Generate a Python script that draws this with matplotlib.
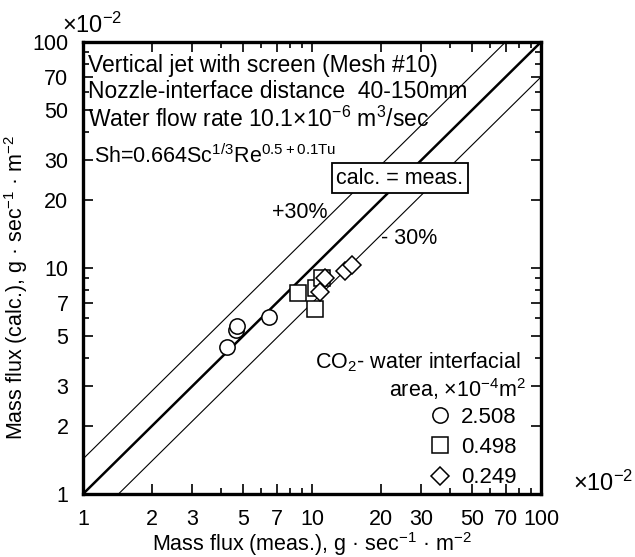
import numpy as np
import matplotlib
matplotlib.use('Agg')
import matplotlib.pyplot as plt
from matplotlib.ticker import FixedLocator, NullFormatter, FixedFormatter

plt.rcParams['font.family'] = ['Liberation Sans', 'DejaVu Sans']
plt.rcParams['mathtext.default'] = 'regular'

# mass flux, x10^-2 g/(s m2): measured vs calculated, grouped by interfacial area
area_labels = ['2.508', '0.498', '0.249']
circle_meas = [4.24, 4.66, 4.72, 6.51]
circle_calc = [4.46, 5.32, 5.54, 6.09]
square_meas = [8.71, 10.4, 11.1, 10.3]
square_calc = [7.73, 8.13, 9.0, 6.57]
diamond_meas = [10.8, 11.4, 13.9, 15.0]
diamond_calc = [7.85, 9.0, 9.70, 10.3]

tick_vals = [1, 2, 3, 5, 7, 10, 20, 30, 50, 70, 100]
minor_vals = [4, 6, 8, 9, 40, 60, 80, 90]

fig = plt.figure(figsize=(6.35, 5.57), dpi=100)
ax = fig.add_axes([0.1307, 0.1131, 0.7213, 0.8115])

# parity line and the +/-30 % band
xl = np.array([1.0, 100.0])
ax.plot(xl, xl, color='black', lw=1.8, zorder=2)
ax.plot(xl, xl / 0.7, color='black', lw=0.8, zorder=2)
ax.plot(xl, xl * 0.7, color='black', lw=0.8, zorder=2)

mk = dict(linestyle='none', mfc='white', mec='black', mew=1.1, zorder=3)
ax.plot(circle_meas, circle_calc, marker='o', ms=11, label=area_labels[0], **mk)
ax.plot(square_meas, square_calc, marker='s', ms=11, label=area_labels[1], **mk)
ax.plot(diamond_meas, diamond_calc, marker='D', ms=9, label=area_labels[2], **mk)

ax.set_xscale('log')
ax.set_yscale('log')
ax.set_xlim(1, 100)
ax.set_ylim(1, 100)

for axis in (ax.xaxis, ax.yaxis):
    axis.set_major_locator(FixedLocator(tick_vals))
    axis.set_major_formatter(FixedFormatter([str(v) for v in tick_vals]))
    axis.set_minor_locator(FixedLocator(minor_vals))
    axis.set_minor_formatter(NullFormatter())

ax.tick_params(which='both', direction='in', top=True, right=True, width=1.2,
               labelsize=15.5, pad=10.5)
ax.tick_params(which='major', length=7)
ax.tick_params(which='minor', length=4)
for s in ax.spines.values():
    s.set_linewidth(2.4)

ax.set_xlabel('Mass flux (meas.), g · sec$^{-1}$ · m$^{-2}$', fontsize=15.5)
ax.xaxis.set_label_coords(0.5, -0.08)
fig.text(0.004, 0.485, 'Mass flux (calc.), g · sec$^{-1}$ · m$^{-2}$', fontsize=15.5,
         rotation=90, ha='left', va='center')

fig.text(0.0976, 0.955, '×10$^{-2}$', fontsize=17, ha='left', va='center')
fig.text(0.902, 0.133, '×10$^{-2}$', fontsize=17, ha='left', va='center')

# conditions block
info = ['Vertical jet with screen (Mesh #10)',
        'Nozzle-interface distance  40-150mm',
        'Water flow rate 10.1×10$^{-6}$ m$^3$/sec']
info_y = [0.934, 0.876, 0.812]
for line, yy in zip(info, info_y):
    ax.text(0.011, yy, line, transform=ax.transAxes,
            fontsize=16.5, ha='left', va='baseline')
ax.text(0.025, 0.732, 'Sh=0.664Sc$^{1/3}$Re$^{0.5+0.1Tu}$', transform=ax.transAxes,
        fontsize=15.5, ha='left', va='baseline')

ax.text(0.692, 0.699, 'calc. = meas.', transform=ax.transAxes, fontsize=15.5,
        ha='center', va='center', zorder=5,
        bbox=dict(boxstyle='square,pad=0.22', fc='white', ec='black', lw=1.3))
ax.text(0.474, 0.622, '+30%', transform=ax.transAxes, fontsize=15.5,
        ha='center', va='center')
ax.text(0.713, 0.566, '- 30%', transform=ax.transAxes, fontsize=15.5,
        ha='center', va='center')

# legend
ax.text(0.506, 0.292, 'CO$_2$- water interfacial', transform=ax.transAxes,
        fontsize=15.5, ha='left', va='center')
ax.text(0.668, 0.233, 'area, ×10$^{-4}$m$^2$', transform=ax.transAxes,
        fontsize=15.5, ha='left', va='center')
ax.legend(loc='upper left', bbox_to_anchor=(0.755, 0.193), frameon=False,
          fontsize=16, borderpad=0, borderaxespad=0, handlelength=1.0,
          handletextpad=0.45, labelspacing=0.42, numpoints=1)

fig.savefig('out.png', dpi=100)
